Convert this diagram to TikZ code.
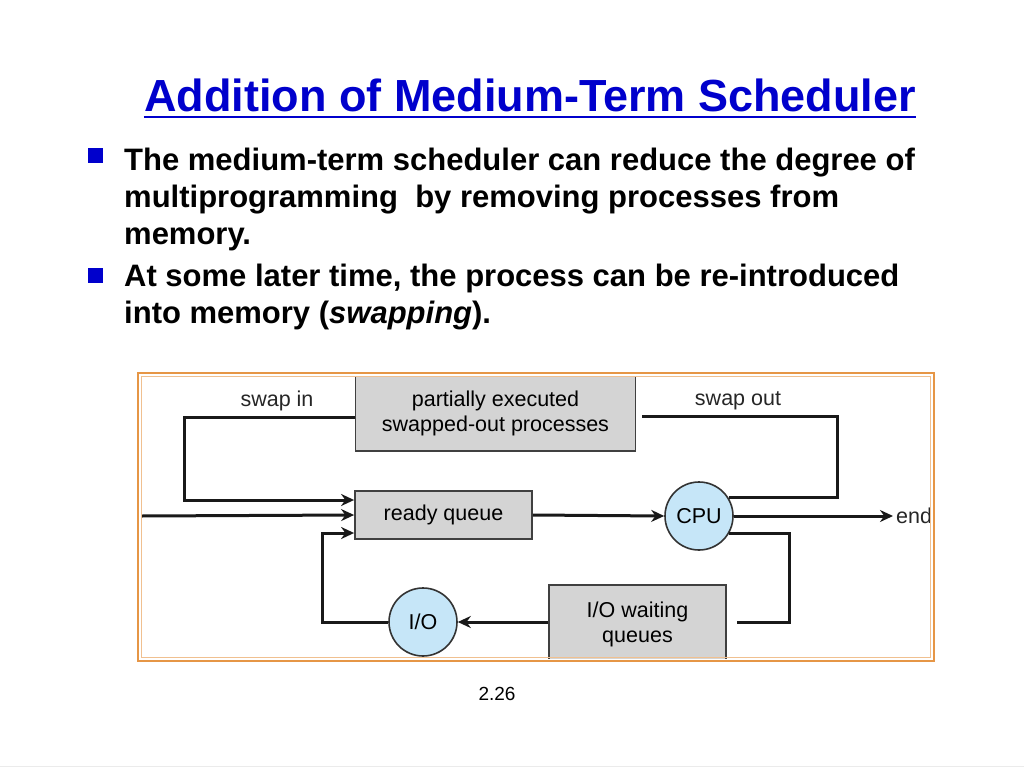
\documentclass[tikz,border=0pt]{standalone}
\usepackage{fontspec}
\setmainfont{Liberation Sans}
\usetikzlibrary{arrows.meta,shapes}

\definecolor{titleblue}{RGB}{0,0,204}
\definecolor{boxgray}{RGB}{212,212,212}
\definecolor{procblue}{RGB}{198,230,248}
\definecolor{frameorange}{RGB}{230,150,70}

\begin{document}
\begin{tikzpicture}[x=1pt,y=-1pt,>={Stealth[length=13pt,width=12pt]},
        queue/.style={draw=black!75,fill=boxgray,line width=1.8pt,inner sep=0pt,align=center,font=\fontsize{21.5}{25}\selectfont},
        proc/.style={circle,draw=black!80,fill=procblue,line width=1.6pt,minimum size=68pt,inner sep=0pt,font=\fontsize{21.5}{25}\selectfont},
        lbl/.style={font=\fontsize{21.5}{25}\selectfont,text=black!85},
        flow/.style={->,draw=black!90,line width=3pt},
        wire/.style={draw=black!90,line width=3pt}]
                \useasboundingbox[fill=white] (0,0) rectangle (1024,768);
                % slide text
                \node[anchor=base,inner sep=0pt,text=titleblue,font=\bfseries\fontsize{45}{52}\selectfont](title)at(530, 111){Addition of Medium-Term Scheduler};
                \draw[titleblue,line width=2.5pt] ([yshift=-6pt]title.base west) -- ([yshift=-6pt]title.base east);
                \node[fill=titleblue,minimum size=15pt,inner sep=0pt](b1)at(95, 155){};
                \node[fill=titleblue,minimum size=15pt,inner sep=0pt](b2)at(95, 275){};
                \node[anchor=base west,inner sep=0pt,align=left,font=\bfseries\fontsize{31}{37}\selectfont](t1)at(124, 244){The medium-term scheduler can reduce the degree of\\multiprogramming\ \ by removing processes from\\memory.};
                \node[anchor=base west,inner sep=0pt,align=left,font=\bfseries\fontsize{31}{37}\selectfont](t2)at(124, 323){At some later time, the process can be re-introduced\\into memory (\textit{swapping}).};
                \node[font=\fontsize{19}{22}\selectfont](pagenum)at(497, 694){2.26};
                \draw[black!8,line width=1pt] (0,766) -- (1024,766);
                % diagram
                \begin{scope}
                \clip (141,376) rectangle (931,658);
                \node[queue,minimum width=280pt,minimum height=75pt](swapped)at(495.5, 413.5){partially executed\\swapped-out processes};
                \node[queue,minimum width=177pt,minimum height=48pt](ready)at(443.5, 515){ready queue};
                \node[queue,minimum width=177pt,minimum height=78pt](iowait)at(637.5, 624){I/O waiting\\queues};
                \node[proc](cpu)at(699, 516){CPU};
                \node[proc](io)at(423, 622){I/O};
                \node[lbl](swapin)at(277, 401){swap in};
                \node[lbl](swapout)at(738, 401){swap out};
                \node[lbl,anchor=west,inner sep=5pt](exit)at(891, 516){end};
                \coordinate (entry) at (141, 516);
                \coordinate (inL) at (184, 500);
                \coordinate (outR) at (837, 416);
                \coordinate (ioR) at (789, 622);
                \coordinate (backL) at (322, 533);
                \draw[flow] ([yshift=-4pt]swapped.west) -| (inL) -- (ready.west |- inL);
                \draw[flow] (entry) -- (ready.west);
                \draw[flow] (io.west) -| (backL) -- (ready.west |- backL);
                \draw[flow] (ready.east) -- (cpu.west);
                \draw[flow] (cpu.east) -- ([xshift=2pt]exit.west);
                \draw[wire] (cpu.32) -| (outR) -- ([xshift=6pt]swapped.east |- outR);
                \draw[wire] (cpu.-30) -| (ioR) -- ([xshift=10pt]iowait.east |- ioR);
                \draw[flow] (iowait.west |- io) -- (io.east);
                \end{scope}
                \draw[frameorange,line width=1.2pt] (138,373) rectangle (934,661);
                \draw[frameorange!60,line width=1pt] (141.5,376.5) rectangle (930.5,657.5);
            \end{tikzpicture}
\end{document}
